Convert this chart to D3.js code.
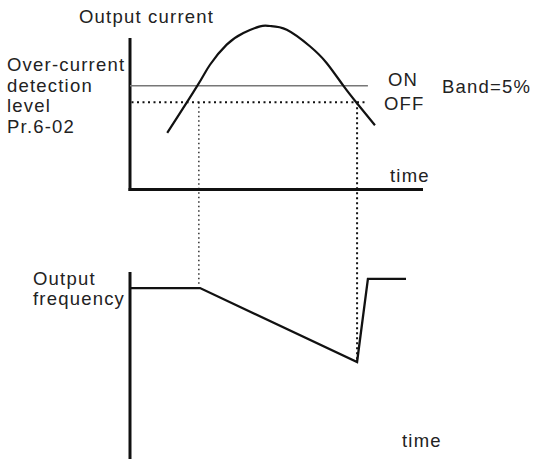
<!DOCTYPE html>
<html>
<head>
<meta charset="utf-8">
<script src="https://cdn.jsdelivr.net/npm/d3@7"></script>
<style>
  html, body { margin: 0; padding: 0; background: #fff; }
  svg text { font-family: "Liberation Sans", Arial, Helvetica, sans-serif; font-size: 18.5px; letter-spacing: 1.2px; fill: #222; }
</style>
</head>
<body>
<svg id="chart" width="535" height="459"></svg>
<script>
// ---- data (time in arbitrary units 0..10, levels in % of scale) ----
const currentTime   = [1.27, 2.30, 2.73, 3.30, 3.87, 4.44, 4.78, 5.35, 6.14, 6.71, 7.28, 7.74, 8.36];
const currentValue  = [34.6, 63.5, 76.3, 88.6, 95.7, 99.8, 100,  97.7, 87.6, 77.4, 63.5, 52.9, 39.3];
const onLevel  = 63.5;
const offLevel = 53.4;
const levelEnd = 8.12;           // where ON/OFF reference lines end
const tripTimes = [2.35, 7.75];  // times the current crosses the OFF / trips
const freqTime  = [0, 2.39, 7.75, 8.12, 9.42];
const freqValue = [91.4, 91.4, 51.9, 96.3, 96.3];
const topLabels = ["Over-current", "detection", "level", "Pr.6-02"];
const freqLabels = ["Output", "frequency"];

const svg = d3.select("#chart");

// shared time scale
const x = d3.scaleLinear().domain([0, 10]).range([130, 423]);
// current scale (top panel)
const yC = d3.scaleLinear().domain([0, 100]).range([189.5, 26]);
// frequency scale (bottom panel)
const yF = d3.scaleLinear().domain([0, 100]).range([459, 272]);

// ---- top panel axes ----
svg.append("line").attr("x1", x(0)).attr("x2", x(0))
  .attr("y1", 38).attr("y2", yC(0) + 1.5)
  .attr("stroke", "#111").attr("stroke-width", 3);
svg.append("line").attr("x1", x(0) - 1.5).attr("x2", x(10))
  .attr("y1", yC(0)).attr("y2", yC(0))
  .attr("stroke", "#111").attr("stroke-width", 3);

// ON line
svg.append("line").attr("x1", x(0)).attr("x2", x(levelEnd))
  .attr("y1", yC(onLevel)).attr("y2", yC(onLevel))
  .attr("stroke", "#777").attr("stroke-width", 1.5);
// OFF dotted line
svg.append("line").attr("x1", x(0) + 1.5).attr("x2", x(levelEnd) - 2)
  .attr("y1", yC(offLevel)).attr("y2", yC(offLevel))
  .attr("stroke", "#111").attr("stroke-width", 2)
  .attr("stroke-dasharray", "2,3.5");

// vertical dotted connectors
svg.append("line").attr("x1", x(tripTimes[0])).attr("x2", x(tripTimes[0]))
  .attr("y1", yC(offLevel)).attr("y2", yF(freqValue[1]) - 3)
  .attr("stroke", "#111").attr("stroke-width", 1.3)
  .attr("stroke-dasharray", "1.5,3");
svg.append("line").attr("x1", x(tripTimes[1])).attr("x2", x(tripTimes[1]))
  .attr("y1", yC(offLevel)).attr("y2", yF(freqValue[2]))
  .attr("stroke", "#111").attr("stroke-width", 2)
  .attr("stroke-dasharray", "2,3");

// current curve
const curData = currentTime.map((t, i) => [t, currentValue[i]]);
svg.append("path").datum(curData)
  .attr("d", d3.line().x(d => x(d[0])).y(d => yC(d[1])).curve(d3.curveNatural))
  .attr("fill", "none").attr("stroke", "#111").attr("stroke-width", 2.2);

// ---- bottom panel ----
svg.append("line").attr("x1", x(0)).attr("x2", x(0))
  .attr("y1", yF(100)).attr("y2", yF(0))
  .attr("stroke", "#111").attr("stroke-width", 3);
const fData = freqTime.map((t, i) => [t, freqValue[i]]);
svg.append("path").datum(fData)
  .attr("d", d3.line().x(d => x(d[0])).y(d => yF(d[1])))
  .attr("fill", "none").attr("stroke", "#111").attr("stroke-width", 2.3)
  .attr("stroke-linejoin", "miter");

// ---- text ----
svg.append("text").attr("x", 79).attr("y", 23).text("Output current");
svg.selectAll("text.lvl").data(topLabels).enter().append("text")
  .attr("class", "lvl").attr("x", 7).attr("y", (d, i) => 71 + i * 20.7).text(d => d);
svg.append("text").attr("x", 388).attr("y", 86).text("ON");
svg.append("text").attr("x", 384).attr("y", 110).text("OFF");
svg.append("text").attr("x", 442).attr("y", 93).text("Band=5%");
svg.append("text").attr("x", 390).attr("y", 182).text("time");
svg.selectAll("text.fq").data(freqLabels).enter().append("text")
  .attr("class", "fq").attr("x", 33).attr("y", (d, i) => 285 + i * 20).text(d => d);
svg.append("text").attr("x", 402).attr("y", 447).text("time");
</script>
</body>
</html>
